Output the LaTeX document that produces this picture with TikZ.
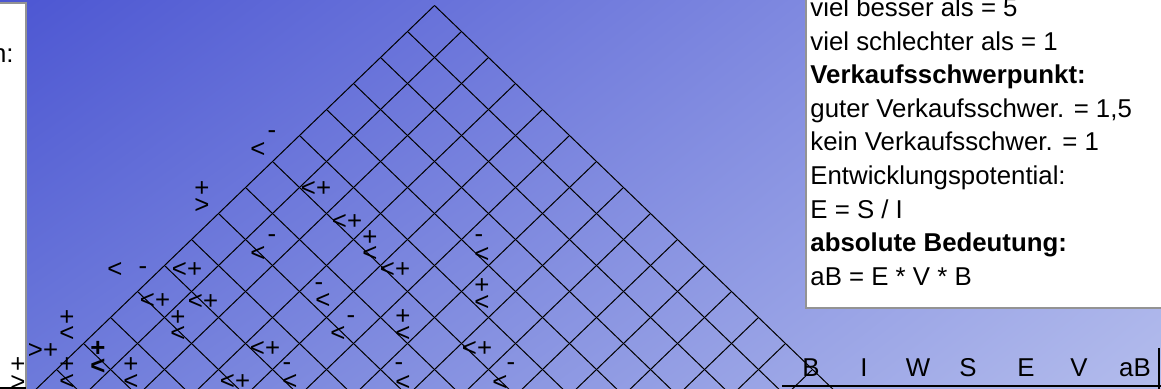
\documentclass[tikz,border=0pt]{standalone}
\usepackage{fontspec}
\setmainfont{Liberation Sans}
\usetikzlibrary{shadings}
\definecolor{bgUL}{RGB}{76,86,210}
\definecolor{bgUR}{RGB}{149,159,230}
\definecolor{bgLL}{RGB}{108,121,218}
\definecolor{bgLR}{RGB}{179,188,236}
\tikzset{
  gridline/.style={black, line width=0.5pt},
  sym/.style={inner sep=0pt, text height=9pt, text depth=0pt},
  infobox/.style={fill=white, draw=gray!85, line width=1pt},
  infotext/.style={inner sep=0pt, anchor=base west},
  headtext/.style={inner sep=0pt, anchor=base},
}
\begin{document}
\begin{tikzpicture}[x=0.5pt, y=-0.5pt, every node/.style={font=\fontsize{12.9}{16}\selectfont}]
  % 1. 画布与渐变背景
  \useasboundingbox (0,0) rectangle (1161,389);
  \clip (0,0) rectangle (1161,389);
  \shade[upper left=bgUL, upper right=bgUR, lower left=bgLL, lower right=bgLR] (0,0) rectangle (1161,389);

  % 2. 斜网格（屋顶矩阵）
  \foreach \k in {0,...,14}{
    \draw[gridline] ({434.5-27*\k},{5.5+26*\k}) -- ++(432,416);
    \draw[gridline] ({434.5+27*\k},{5.5+26*\k}) -- ++(-432,416);
  }

  % 3. 左右说明框
  \draw[infobox] (-5,3) rectangle (26,388);
  \draw[black, line width=0.8pt] (0,388) -- (26,388);
  \node[infotext, anchor=base east] (leftlabel) at (14,63) {n:};
  \draw[infobox] (806,-5) rectangle (1170,308);
  \foreach \txt [count=\k] in {{viel besser als = 5}, {viel schlechter als = 1},
      {\textbf{Verkaufsschwerpunkt:}}, {guter Verkaufsschwer. = 1,5},
      {kein Verkaufsschwer. = 1}, {Entwicklungspotential:}, {E = S / I},
      {\textbf{absolute Bedeutung:}}, {aB = E * V * B}}
    \node[infotext] (info\k) at (810,{16.5+33.6*(\k-1)}) {\txt};

  % 4. 表头
  \foreach \h/\hx in {B/811, I/864, W/918, S/968, E/1026, V/1079, aB/1135}
    \node[headtext] (head\h) at (\hx,377) {\h};
  \draw[line width=1.2pt] (782,386) -- (1161,386);
  \draw[line width=1pt] (1159,348) -- (1159,389);

  % 5. 相关符号
  \foreach \sx/\sy/\s [count=\n] in {
      316/188/<+, 347/221/<+, 395/269/<+, 187/269/<+, 155/300/<+,
      203/301/<+, 265/348/<+, 477/348/<+, 235/381/<+, 43/349/>+,
      272/130/-, 258/149/<, 202/188/+, 202/205/>,
      272/234/-, 258/253/<, 370/237/+, 370/253/<,
      479/234/-, 482/254/<, 115/269/<, 143/266/-,
      319/282/-, 323/300/<, 482/285/+, 482/302/<,
      178/317/+, 178/333/<, 67/317/+, 67/333/<,
      351/315/-, 338/333/<, 403/316/+, 403/333/<,
      67/363/+, 67/381/<, 131/363/+, 131/381/<,
      18/363/+, 18/382/>, 287/362/-, 290/381/<,
      399/362/-, 403/382/<, 511/362/-, 500/382/<}
    \node[sym] (sym\n) at (\sx,\sy) {\s};
  \node[sym] (boldplus) at (98,348) {\bfseries +};
  \node[sym] (boldless) at (98,365) {\bfseries <};
\end{tikzpicture}
\end{document}
